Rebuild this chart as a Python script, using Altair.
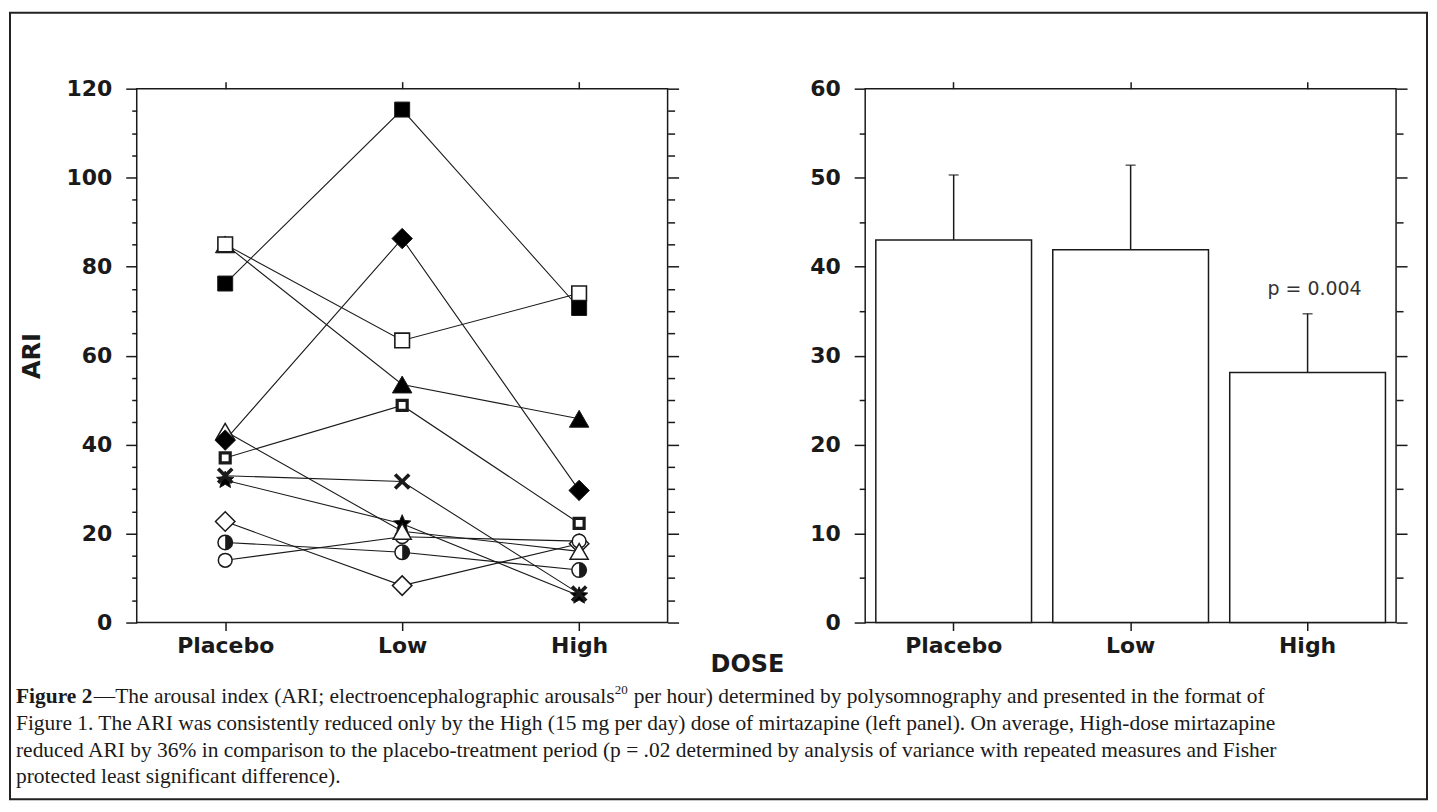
import math
import altair as alt
import pandas as pd

# ---------------- data ----------------
doses = ["Placebo", "Low", "High"]

subjects = ["S01", "S02", "S03", "S04", "S05", "S06", "S07", "S08", "S09", "S10", "S11"]
ari_placebo = [85.0, 85.0, 76.2, 32.0, 22.7, 14.0, 43.0, 41.0, 37.0, 33.0, 18.0]
ari_low = [53.5, 63.4, 115.3, 22.2, 8.3, 19.3, 20.5, 86.3, 48.8, 31.7, 15.8]
ari_high = [45.8, 74.0, 70.7, 6.0, 17.7, 18.3, 16.0, 29.7, 22.3, 6.5, 11.8]

bar_means = [43.0, 41.9, 28.1]
bar_upper = [50.3, 51.4, 34.7]

p_label = "p = 0.004"
p_dose = "High"
p_value_y = 37.5

caption_bold = "Figure 2"
caption_first_a = "—The arousal index (ARI; electroencephalographic arousals"
caption_sup = "20"
caption_first_b = "per hour) determined by polysomnography and presented in the format of"
caption_lines = [
    "Figure 1. The ARI was consistently reduced only by the High (15 mg per day) dose of "
    "mirtazapine (left panel). On average, High-dose mirtazapine",
    "reduced ARI by 36% in comparison to the placebo-treatment period (p = .02 determined by "
    "analysis of variance with repeated measures and Fisher",
    "protected least significant difference).",
]

# ---------------- marker styles ----------------
star_pts = []
for k in range(10):
    a = -math.pi / 2 + k * math.pi / 5
    r = 1.0 if k % 2 == 0 else 0.45
    star_pts.append(f"{r * math.cos(a):.3f},{r * math.sin(a):.3f}")
star_path = "M" + "L".join(star_pts) + "Z"
x_path = "M-1,-1L1,1M-1,1L1,-1"
half_path = "M0,-1A1,1,0,0,1,0,1Z"

marker_styles = {
    "S01": ("triangle-up", "black", 380, 1.0),
    "S02": ("square", "white", 215, 1.6),
    "S03": ("square", "black", 225, 1.0),
    "S04": (star_path, "black", 330, 1.0),
    "S05": ("diamond", "white", 380, 1.5),
    "S06": ("circle", "white", 190, 1.5),
    "S07": ("triangle-up", "white", 330, 1.5),
    "S08": ("diamond", "black", 420, 1.0),
    "S09": ("square", "white", 100, 3.2),
    "S10": (x_path, "white", 200, 3.6),
    "S11": ("circle", "white", 210, 1.5),
}
half_subject = "S11"

rows = []
for i, s in enumerate(subjects):
    vals = [ari_placebo[i], ari_low[i], ari_high[i]]
    shp, fil, siz, sw = marker_styles[s]
    for j, d in enumerate(doses):
        rows.append(dict(subject=s, dose=d, dose_idx=j, ari=vals[j],
                         mshape=shp, mfill=fil, msize=siz, msw=sw))
df_ind = pd.DataFrame(rows)

df_bar = pd.DataFrame({"dose": doses, "mean": bar_means, "upper": bar_upper})
df_p = pd.DataFrame({"dose": [p_dose], "py": [p_value_y], "label": [p_label]})
one = pd.DataFrame({"a": [0]})

INK = "#1a1a1a"
W, H = 532, 535

# ---------------- left panel ----------------
ari_major = list(range(0, 121, 20))
ari_minor = [v for v in range(0, 121, 5) if v % 20 != 0]

xs_left = alt.Scale(type="point", domain=doses, padding=0.5)
ys_left = alt.Scale(domain=[0, 120], nice=False, zero=True)

def x_left(axis):
    return alt.X("dose:N", sort=doses, scale=xs_left, title=None, axis=axis)

def y_left(axis, title=None):
    return alt.Y("ari:Q", scale=ys_left, title=title, axis=axis)

ax_bottom = alt.Axis(orient="bottom", tickSize=8, labelPadding=5, labelAngle=0)
ax_top = alt.Axis(orient="top", tickSize=7, labels=False)

lines = alt.Chart(df_ind).mark_line(color=INK, strokeWidth=1.1).encode(
    x=x_left(ax_bottom),
    y=y_left(alt.Axis(orient="left", values=ari_major, tickSize=11, labelPadding=14,
                      titlePadding=22, titleFontSize=24), "ARI"),
    detail="subject:N",
    order="dose_idx:Q",
)

points = alt.Chart(df_ind).mark_point(filled=True, opacity=1, stroke=INK).encode(
    x=x_left(ax_top),
    y=y_left(alt.Axis(orient="right", values=ari_major, tickSize=11, labels=False)),
    shape=alt.Shape("mshape:N", scale=None),
    fill=alt.Fill("mfill:N", scale=None),
    size=alt.Size("msize:Q", scale=None),
    strokeWidth=alt.StrokeWidth("msw:Q", scale=None),
)

half = alt.Chart(df_ind).transform_filter(
    alt.datum.subject == half_subject
).mark_point(shape=half_path, filled=True, opacity=1, fill=INK, size=210, strokeWidth=0).encode(
    x=x_left(None),
    y=y_left(alt.Axis(orient="left", values=ari_minor, tickSize=5, labels=False)),
)

ghost = alt.Chart(df_ind).mark_point(opacity=0).encode(
    x=x_left(None),
    y=y_left(alt.Axis(orient="right", values=ari_minor, tickSize=7, labels=False)),
)

frame = alt.Chart(one).mark_rect(fill=None, filled=False, stroke="#222", strokeWidth=2).encode(
    x=alt.value(-127), x2=alt.value(1293), y=alt.value(-76), y2=alt.value(712),
)

dose_title = alt.Chart(one).mark_text(
    text="DOSE", font="DejaVu Sans", fontWeight="bold", fontSize=24, color=INK,
    align="center", baseline="middle",
).encode(x=alt.value(612), y=alt.value(578))

cap_font = dict(font="Liberation Serif", fontSize=21.5, color=INK, align="left", baseline="middle")
cap_layers = [
    alt.Chart(one).mark_text(text=caption_bold, fontWeight="bold", **cap_font).encode(
        x=alt.value(-121), y=alt.value(610)),
    alt.Chart(one).mark_text(text=caption_first_a, **cap_font).encode(
        x=alt.value(-43), y=alt.value(610)),
    alt.Chart(one).mark_text(text=caption_sup, font="Liberation Serif", fontSize=13, color=INK,
                             align="left", baseline="middle").encode(
        x=alt.value(479), y=alt.value(603)),
    alt.Chart(one).mark_text(text=caption_first_b, **cap_font).encode(
        x=alt.value(498), y=alt.value(610)),
]
for k, ln in enumerate(caption_lines):
    cap_layers.append(
        alt.Chart(one).mark_text(text=ln, **cap_font).encode(
            x=alt.value(-121), y=alt.value(610 + 26.7 * (k + 1)))
    )

left = alt.layer(lines, points, half, ghost, frame, dose_title, *cap_layers).resolve_axis(
    x="independent", y="independent"
).properties(width=W, height=H)

# ---------------- right panel ----------------
bar_major = list(range(0, 61, 10))
bar_minor = list(range(5, 60, 10))

xs_right = alt.Scale(domain=doses, paddingInner=0.12, paddingOuter=0.06)
ys_right = alt.Scale(domain=[0, 60], nice=False, zero=True)

def x_right(axis):
    return alt.X("dose:N", sort=doses, scale=xs_right, title=None, axis=axis)

bars = alt.Chart(df_bar).mark_bar(fill="white", stroke=INK, strokeWidth=1.5).encode(
    x=x_right(alt.Axis(orient="bottom", tickSize=8, labelPadding=5, labelAngle=0)),
    y=alt.Y("mean:Q", scale=ys_right, title=None,
            axis=alt.Axis(orient="left", values=bar_major, tickSize=11, labelPadding=14)),
)

err = alt.Chart(df_bar).mark_rule(color=INK, strokeWidth=1.5).encode(
    x=x_right(alt.Axis(orient="top", tickSize=7, labels=False)),
    y=alt.Y("mean:Q", scale=ys_right, title=None,
            axis=alt.Axis(orient="right", values=bar_major, tickSize=11, labels=False)),
    y2="upper:Q",
)

caps = alt.Chart(df_bar).mark_tick(color=INK, thickness=1.5, size=10).encode(
    x=x_right(None),
    y=alt.Y("upper:Q", scale=ys_right, title=None,
            axis=alt.Axis(orient="left", values=bar_minor, tickSize=6, labels=False)),
)

ptext = alt.Chart(df_p).mark_text(
    font="DejaVu Sans", fontSize=19, color="#333", align="center", baseline="middle", dx=7,
).encode(
    x=x_right(None),
    y=alt.Y("py:Q", scale=ys_right, title=None,
            axis=alt.Axis(orient="right", values=bar_minor, tickSize=7, labels=False)),
    text="label:N",
)

right = alt.layer(bars, err, caps, ptext).resolve_axis(
    x="independent", y="independent"
).properties(width=W, height=H)

chart = alt.hconcat(left, right, spacing=198, bounds="flush").properties(
    padding={"left": 0, "top": 2, "right": 0, "bottom": 0},
    background="white",
).configure_view(
    stroke=INK, strokeWidth=1.5
).configure_axis(
    labelFont="DejaVu Sans", labelFontWeight="bold", labelFontSize=22, labelColor=INK,
    titleFont="DejaVu Sans", titleFontWeight="bold", titleColor=INK,
    tickColor=INK, tickWidth=1.5, domain=False, grid=False,
)

chart.save("out.html", embed_options={"renderer": "svg", "actions": False})
